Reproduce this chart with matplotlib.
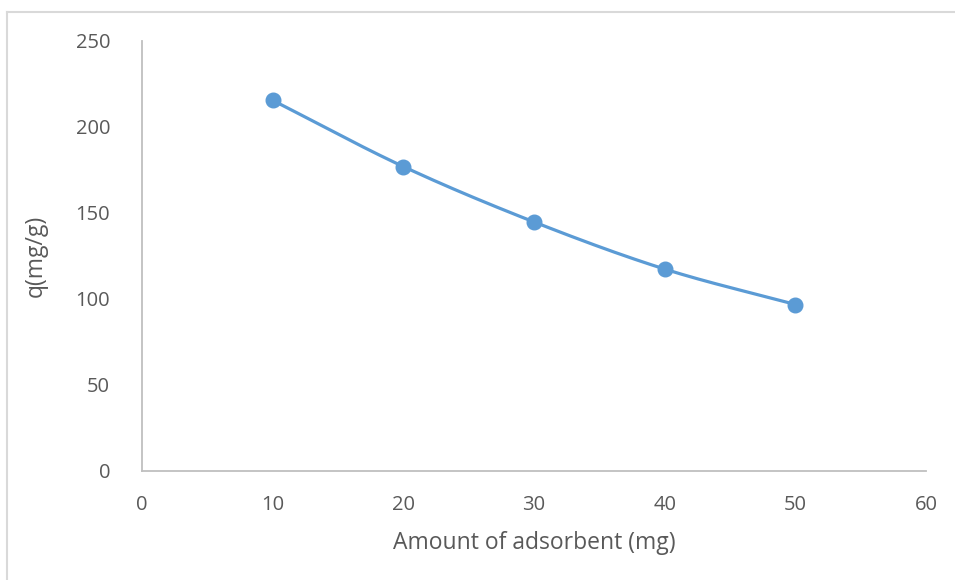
import numpy as np
import matplotlib
matplotlib.use("Agg")
import matplotlib.pyplot as plt
from matplotlib.lines import Line2D

# Adsorption capacity versus adsorbent dose
adsorbent_mg = [10, 20, 30, 40, 50]
q_mg_per_g = [215.5, 177.0, 144.8, 117.4, 96.8]

x_ticks = [0, 10, 20, 30, 40, 50, 60]
y_ticks = [0, 50, 100, 150, 200, 250]

LINE_COLOR = "#5B9BD5"
TEXT_COLOR = "#595959"
AXIS_COLOR = "#BFBFBF"

plt.rcParams["font.family"] = ["Open Sans", "DejaVu Sans"]


def smooth_curve(xs, ys, steps=40):
    """Catmull-Rom spline through the data points (smoothed line)."""
    xs = np.asarray(xs, float)
    ys = np.asarray(ys, float)
    px = np.concatenate([[2 * xs[0] - xs[1]], xs, [2 * xs[-1] - xs[-2]]])
    py = np.concatenate([[2 * ys[0] - ys[1]], ys, [2 * ys[-1] - ys[-2]]])
    out_x, out_y = [], []
    for i in range(1, len(px) - 2):
        t = np.linspace(0, 1, steps)
        for arr, src in ((out_x, px), (out_y, py)):
            p0, p1, p2, p3 = src[i - 1], src[i], src[i + 1], src[i + 2]
            arr.extend(0.5 * ((2 * p1) + (-p0 + p2) * t
                              + (2 * p0 - 5 * p1 + 4 * p2 - p3) * t ** 2
                              + (-p0 + 3 * p1 - 3 * p2 + p3) * t ** 3))
    return np.array(out_x), np.array(out_y)


W, H = 955, 580
fig = plt.figure(figsize=(W / 100, H / 100), dpi=100)
ax = fig.add_axes([142 / W, (H - 471) / H, (926 - 142) / W, (471 - 41) / H])

sx, sy = smooth_curve(adsorbent_mg, q_mg_per_g)
ax.plot(sx, sy, color=LINE_COLOR, lw=2.3, solid_capstyle="round", zorder=3)
ax.plot(adsorbent_mg, q_mg_per_g, "o", color=LINE_COLOR, ms=10.5, zorder=4)

ax.set_xlim(0, 60)
ax.set_ylim(0, 250)
ax.set_xticks(x_ticks)
ax.set_yticks(y_ticks)
ax.tick_params(length=0, labelsize=14.5, colors=TEXT_COLOR)
ax.tick_params(axis="x", pad=17)
ax.tick_params(axis="y", pad=23)

for side in ("top", "right"):
    ax.spines[side].set_visible(False)
for side in ("left", "bottom"):
    ax.spines[side].set_color(AXIS_COLOR)
    ax.spines[side].set_linewidth(1.3)

ax.set_xlabel("Amount of adsorbent (mg)", fontsize=16.5, color=TEXT_COLOR, labelpad=12)
ax.set_ylabel("q(mg/g)", fontsize=16.5, color=TEXT_COLOR, labelpad=20)

# Chart-area frame
frame_color = "#D9D9D9"
fig.add_artist(Line2D([7 / W, 1.0], [(H - 12) / H] * 2, color=frame_color, lw=1.5,
                      transform=fig.transFigure))
fig.add_artist(Line2D([7 / W] * 2, [0, (H - 12) / H], color=frame_color, lw=1.5,
                      transform=fig.transFigure))

fig.savefig("out.png", dpi=100, facecolor="white")
